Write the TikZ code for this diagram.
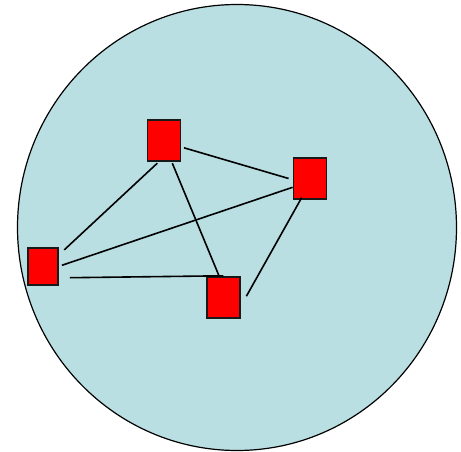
\documentclass[tikz,border=0pt]{standalone}
\usetikzlibrary{calc}
\definecolor{poolblue}{RGB}{185,223,227}
\tikzset{
  peer/.style={draw=black!90, line width=1.8pt, fill=red, inner sep=0pt,
    minimum width=33pt, minimum height=41pt},
  link/.style={line width=1.6pt}
}
\begin{document}
\begin{tikzpicture}[x=1pt,y=-1pt]
  \useasboundingbox (0,0) rectangle (461,452);
  \draw[fill=poolblue, line width=1.2pt] (237,227.5) ellipse (219.5 and 223);
  \node[peer] (top) at (164,140.8) {};
  \node[peer] (right) at (310,178.5) {};
  \node[peer, minimum width=30pt, minimum height=37pt] (left) at (43.3,266.3) {};
  \node[peer] (bottom) at (223.3,297.2) {};
  \draw[link] ($(top.south)+(-6.7,1)$) -- ($(left.north east)+(5,3)$);
  \draw[link] ($(top.east)+(2.6,7)$) -- ($(right.west)+(-4,0)$);
  \draw[link] ($(top.south)+(8.3,1)$) -- ($(bottom.north)+(-4.3,0)$);
  \draw[link] ($(left.east)+(2.7,-1)$) -- ($(right.west)+(0,8.8)$);
  \draw[link] ($(left.south east)+(10.7,-8)$) -- (bottom.north);
  \draw[link] ($(right.south)+(-8.3,-2.3)$) -- ($(bottom.east)+(5.7,-1)$);
\end{tikzpicture}
\end{document}
